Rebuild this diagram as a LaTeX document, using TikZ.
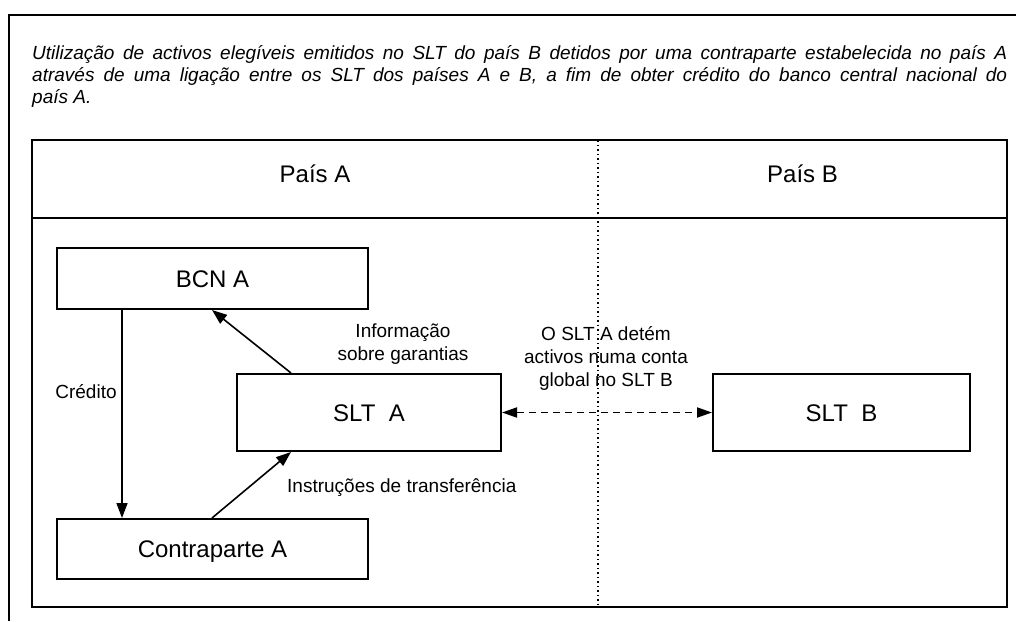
\documentclass[tikz,border=0pt]{standalone}
\usepackage{fontspec}
\setmainfont{Liberation Sans}
\usetikzlibrary{arrows.meta}
\begin{document}
\begin{tikzpicture}[x=1pt,y=-1pt,
  titletext/.style={text width=975pt, align=justify, inner sep=0pt, font=\fontsize{19}{22}\selectfont\itshape},
  hdr/.style={inner sep=0pt, font=\fontsize{24}{28}\selectfont, text height=17.2pt, text depth=0pt},
  box/.style={draw, line width=2pt, inner sep=0pt, fill=white, font=\fontsize{24}{28}\selectfont, text height=17.2pt, text depth=0pt},
  lbl/.style={inner sep=0pt, font=\fontsize{19}{23}\selectfont},
  arr/.style={line width=1.6pt, -{Triangle[length=15pt,width=11pt]}},
  darr/.style={line width=1.8pt, dash pattern=on 7pt off 5pt, {Triangle[length=15pt,width=10pt]}-{Triangle[length=15pt,width=10pt]}}
]
\useasboundingbox (0,0) rectangle (1016,621);
\fill[white] (0,0) rectangle (1016,621);
% outer frame (cut at right and bottom)
\draw[line width=2.5pt] (9,621) -- (9,15) -- (1016,15);
% title
\node[titletext, anchor=north west] (title) at (32,45) {Utilização de activos elegíveis emitidos no SLT do país B detidos por uma contraparte estabelecida no país A\linebreak através de uma ligação entre os SLT dos países A e B, a fim de obter crédito do banco central nacional do\linebreak país A.};
% inner frame
\draw[line width=2pt] (32,140) rectangle (1007,607);
\draw[line width=2pt] (32,218) -- (1007,218);
% headers
\node[hdr] (paisA) at (315,173.5) {País A};
\node[hdr] (paisB) at (802.5,173.5) {País B};
% boxes
\node[box, minimum width=311pt, minimum height=61pt] (bcn) at (212.5,278.5) {BCN A};
\node[box, minimum width=264pt, minimum height=77pt] (slta) at (369,412.5) {SLT\ \ A};
\node[box, minimum width=311pt, minimum height=60pt] (cp) at (212.5,549) {Contraparte A};
\node[box, minimum width=257pt, minimum height=77pt] (sltb) at (841.5,412.5) {SLT\ \ B};
% labels
\node[lbl, anchor=base] (cred) at (86,398) {Crédito};
\node[lbl, align=center] (info) at (403,344) {Informação\\sobre garantias};
\node[lbl, anchor=base west] (instr) at (287,492) {Instruções de transferência};
\node[lbl, align=center] (hold) at (606,358) {O SLT A detém\\activos numa conta\\global no SLT B};
% dotted divider
\draw[line width=1.5pt, dash pattern=on 1.5pt off 3pt] (598,140) -- (598,607);
% connectors
\draw[arr] ([xshift=66pt]bcn.south west) -- ([xshift=66pt]cp.north west);
\draw[arr] ([xshift=55pt]slta.north west) -- ([xshift=156pt]bcn.south west);
\draw[arr] ([xshift=156pt]cp.north west) -- ([xshift=55pt]slta.south west);
\draw[darr] (slta.east) -- (sltb.west);
\end{tikzpicture}
\end{document}
